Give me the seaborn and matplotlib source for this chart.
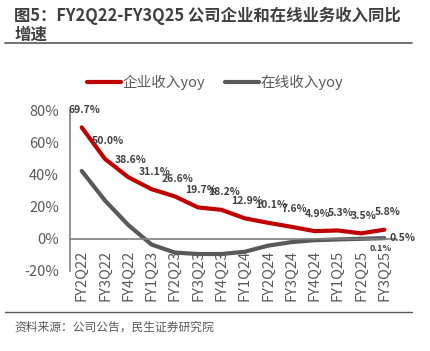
import pandas as pd
import matplotlib.pyplot as plt
import seaborn as sns

# data
quarters = ["FY2Q22", "FY3Q22", "FY4Q22", "FY1Q23", "FY2Q23", "FY3Q23", "FY4Q23",
            "FY1Q24", "FY2Q24", "FY3Q24", "FY4Q24", "FY1Q25", "FY2Q25", "FY3Q25"]
enterprise_yoy = [69.7, 50.0, 38.6, 31.1, 26.6, 19.7, 18.2, 12.9, 10.1, 7.6, 4.9, 5.3, 3.5, 5.8]
online_yoy = [42.5, 24.0, 8.7, -3.5, -8.5, -9.4, -9.4, -8.0, -4.2, -2.0, -0.8, -0.3, 0.1, 0.5]
series_names = ["企业收入yoy", "在线收入yoy"]
series_colors = ["#C00000", "#595959"]

sns.set_style("white")
plt.rcParams["font.family"] = ["Noto Sans CJK SC", "DejaVu Sans"]

df = pd.DataFrame({
    "quarter": quarters * 2,
    "yoy": enterprise_yoy + online_yoy,
    "series": [series_names[0]] * len(quarters) + [series_names[1]] * len(quarters),
})

fig = plt.figure(figsize=(4.3, 3.51), dpi=100)
ax = fig.add_axes([0.163, 0.228, 0.758, 0.456])

sns.lineplot(data=df, x="quarter", y="yoy", hue="series", palette=series_colors,
             linewidth=3, sort=False, legend=False, ax=ax)

ax.set_xlim(-0.5, len(quarters) - 0.5)
ax.set_ylim(-20, 80)
ax.set_yticks([-20, 0, 20, 40, 60, 80])
ax.set_yticklabels([f"{v}%" for v in [-20, 0, 20, 40, 60, 80]])
ax.set_xlabel("")
ax.set_ylabel("")

for side in ["top", "right"]:
    ax.spines[side].set_visible(False)
ax.spines["bottom"].set_position(("data", 0))
for side in ["left", "bottom"]:
    ax.spines[side].set_color("#7f7f7f")
    ax.spines[side].set_linewidth(1.2)

ax.set_xticks(range(len(quarters)))
ax.set_xticklabels(quarters, rotation=90)
ax.set_xticks([i - 0.5 for i in range(len(quarters) + 1)], minor=True)
ax.tick_params(axis="x", which="major", length=0, pad=8, labelsize=10.5, labelcolor="#595959")
ax.tick_params(axis="x", which="minor", length=5, width=1, color="#7f7f7f", direction="out")
ax.tick_params(axis="y", length=5, width=1, color="#7f7f7f", direction="out",
               labelsize=10.5, labelcolor="#595959", pad=3)

# data labels
for i, v in enumerate(enterprise_yoy):
    ax.annotate(f"{v:.1f}%", (i, v), xytext=(2, 9), textcoords="offset points",
                ha="center", va="bottom", fontsize=7.5, fontweight="bold", color="#404040")
ax.annotate(f"{online_yoy[-2]:.1f}%", (len(quarters) - 2, online_yoy[-2]), xytext=(6, -4),
            textcoords="offset points", ha="left", va="top", fontsize=6.5, fontweight="bold",
            color="#404040")
ax.annotate(f"{online_yoy[-1]:.1f}%", (len(quarters) - 1, online_yoy[-1]), xytext=(4, 0),
            textcoords="offset points", ha="left", va="center", fontsize=7.5, fontweight="bold",
            color="#404040")

handles = [plt.Line2D([], [], color=c, linewidth=3) for c in series_colors]
fig.legend(handles, series_names, loc="center", bbox_to_anchor=(0.5, 0.765), ncol=2,
           frameon=False, fontsize=10.5, handlelength=2.3, handletextpad=0.1,
           columnspacing=1.4, labelcolor="#595959")

# title, rules and source
fig.text(0.033, 0.98, "图5：FY2Q22-FY3Q25 公司企业和在线业务收入同比\n增速",
         fontsize=11.8, fontweight="bold", color="#404040", va="top", linespacing=1.05)
fig.add_artist(plt.Line2D([0.012, 0.958], [0.877, 0.877], color="#595959", linewidth=1.2))
fig.add_artist(plt.Line2D([0.012, 0.958], [0.111, 0.111], color="#595959", linewidth=1))
fig.text(0.033, 0.068, "资料来源：公司公告，民生证券研究院", fontsize=8.5, color="#595959",
         va="center")

fig.savefig("out.png", dpi=100)
